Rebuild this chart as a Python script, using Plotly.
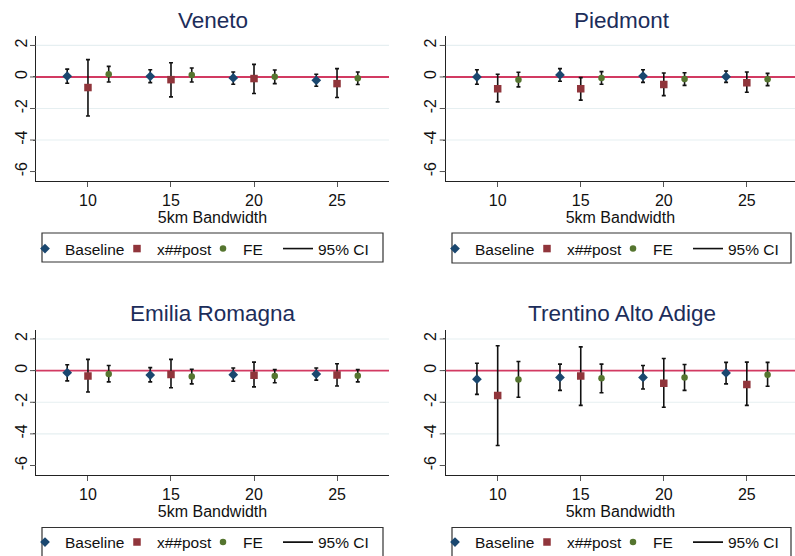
import plotly.graph_objects as go

# ---------------- data ----------------
BANDWIDTH = [10, 15, 20, 25]
X_TICKS = [10, 15, 20, 25]
Y_TICKS = [2, 0, -2, -4, -6]
Y_GRID = [2, -2, -4]
SERIES = ["Baseline", "x##post", "FE"]
REGIONS = ["Veneto", "Piedmont", "Emilia Romagna", "Trentino Alto Adige"]

# Veneto
VEN_BASE = [0.05, 0.04, -0.06, -0.21]
VEN_BASE_LO = [-0.40, -0.36, -0.46, -0.59]
VEN_BASE_HI = [0.50, 0.46, 0.32, 0.17]
VEN_POST = [-0.67, -0.17, -0.10, -0.42]
VEN_POST_LO = [-2.48, -1.26, -1.05, -1.30]
VEN_POST_HI = [1.10, 0.90, 0.80, 0.53]
VEN_FE = [0.17, 0.13, 0.02, -0.08]
VEN_FE_LO = [-0.32, -0.32, -0.42, -0.48]
VEN_FE_HI = [0.67, 0.57, 0.44, 0.32]

# Piedmont
PIE_BASE = [0.00, 0.13, 0.06, 0.02]
PIE_BASE_LO = [-0.46, -0.27, -0.34, -0.34]
PIE_BASE_HI = [0.46, 0.53, 0.46, 0.38]
PIE_POST = [-0.74, -0.74, -0.48, -0.36]
PIE_POST_LO = [-1.58, -1.47, -1.18, -0.97]
PIE_POST_HI = [0.17, -0.04, 0.25, 0.32]
PIE_FE = [-0.17, -0.06, -0.13, -0.15]
PIE_FE_LO = [-0.63, -0.46, -0.53, -0.55]
PIE_FE_HI = [0.30, 0.34, 0.27, 0.23]

# Emilia Romagna
EMI_BASE = [-0.13, -0.28, -0.26, -0.22]
EMI_BASE_LO = [-0.65, -0.71, -0.67, -0.60]
EMI_BASE_HI = [0.37, 0.19, 0.17, 0.17]
EMI_POST = [-0.34, -0.24, -0.30, -0.28]
EMI_POST_LO = [-1.35, -1.08, -1.03, -0.97]
EMI_POST_HI = [0.71, 0.71, 0.54, 0.43]
EMI_FE = [-0.22, -0.37, -0.34, -0.32]
EMI_FE_LO = [-0.71, -0.84, -0.77, -0.71]
EMI_FE_HI = [0.32, 0.09, 0.06, 0.06]

# Trentino Alto Adige
TRE_BASE = [-0.54, -0.43, -0.43, -0.15]
TRE_BASE_LO = [-1.50, -1.25, -1.16, -0.84]
TRE_BASE_HI = [0.47, 0.41, 0.32, 0.52]
TRE_POST = [-1.57, -0.34, -0.80, -0.88]
TRE_POST_LO = [-4.73, -2.20, -2.32, -2.20]
TRE_POST_HI = [1.57, 1.50, 0.77, 0.54]
TRE_FE = [-0.56, -0.49, -0.43, -0.26]
TRE_FE_LO = [-1.68, -1.40, -1.25, -0.99]
TRE_FE_HI = [0.58, 0.41, 0.39, 0.52]

PANELS = [
    (VEN_BASE, VEN_BASE_LO, VEN_BASE_HI, VEN_POST, VEN_POST_LO, VEN_POST_HI, VEN_FE, VEN_FE_LO, VEN_FE_HI),
    (PIE_BASE, PIE_BASE_LO, PIE_BASE_HI, PIE_POST, PIE_POST_LO, PIE_POST_HI, PIE_FE, PIE_FE_LO, PIE_FE_HI),
    (EMI_BASE, EMI_BASE_LO, EMI_BASE_HI, EMI_POST, EMI_POST_LO, EMI_POST_HI, EMI_FE, EMI_FE_LO, EMI_FE_HI),
    (TRE_BASE, TRE_BASE_LO, TRE_BASE_HI, TRE_POST, TRE_POST_LO, TRE_POST_HI, TRE_FE, TRE_FE_LO, TRE_FE_HI),
]

# ---------------- styling ----------------
W, H = 795, 556
FONT = "Liberation Sans, Arial, Helvetica, sans-serif"
OFFSETS = [-1.25, 0.0, 1.25]
COLORS = ["#1a476f", "#90353b", "#55752f"]
SYMBOLS = ["diamond", "square", "circle"]
SIZES = [7.5, 7.5, 6.5]
LEGEND_W = [47, 41, 30]          # legend entry widths
TITLE_COLOR = "#1c2d5a"
YTICK_LEN = 6

# panel boxes in pixels: (left, right, top, bottom, xmin, xmax)
PANEL_PX = [
    (36, 389, 36, 181, 6.87, 28.13),
    (445.7, 795, 36, 181, 6.87, 27.9),
    (36, 389, 329.5, 475, 6.87, 28.13),
    (445.7, 795, 329.5, 475, 6.87, 27.9),
]
LEGEND_BOX = [(42, 383, 233, 262), (452, 791, 233, 263), (42, 383, 527.5, 560), (452, 791, 527.5, 560)]
LEGEND_MID = [249, 249, 542.5, 542.5]
TITLE_Y = [20, 20, 313, 313]
Y_RANGE = [-6.6, 2.6]

fig = go.Figure()
layout = dict(
    width=W, height=H, margin=dict(l=0, r=0, t=0, b=0, autoexpand=False),
    paper_bgcolor="white", plot_bgcolor="white",
    font=dict(family=FONT, size=16, color="#111111"),
    showlegend=True,
)
shapes = []
annotations = []

for p, data in enumerate(PANELS):
    sfx = "" if p == 0 else str(p + 1)
    xa, ya = "x" + sfx, "y" + sfx
    left, right, top, bottom, xmin, xmax = PANEL_PX[p]
    leg = "legend" + sfx
    for s in range(3):
        est, lo, hi = data[3 * s], data[3 * s + 1], data[3 * s + 2]
        xs = [b + OFFSETS[s] for b in BANDWIDTH]
        fig.add_trace(go.Scatter(
            x=xs, y=est, mode="markers", name=SERIES[s],
            xaxis=xa, yaxis=ya, legend=leg, legendwidth=LEGEND_W[s],
            marker=dict(symbol=SYMBOLS[s], size=SIZES[s], color=COLORS[s], line=dict(width=0)),
            error_y=dict(type="data", symmetric=False,
                         array=[h - e for h, e in zip(hi, est)],
                         arrayminus=[e - l for e, l in zip(est, lo)],
                         color="#111111", thickness=1.6, width=2),
        ))
    fig.add_trace(go.Scatter(
        x=[None], y=[None], mode="lines", name="95% CI",
        xaxis=xa, yaxis=ya, legend=leg, legendwidth=60,
        line=dict(color="#111111", width=1.6),
    ))

    layout["xaxis" + sfx] = dict(
        domain=[left / W, right / W], anchor=ya, range=[xmin, xmax],
        tickvals=X_TICKS, ticks="outside", ticklen=5, tickcolor="#555555",
        showline=True, linecolor="#222222", linewidth=1, showgrid=False, zeroline=False,
        tickfont=dict(size=16), title=dict(text="5km Bandwidth", font=dict(size=16), standoff=1),
    )
    layout["yaxis" + sfx] = dict(
        domain=[1 - bottom / H, 1 - top / H], anchor=xa, range=Y_RANGE,
        tickvals=Y_TICKS, ticktext=[str(t) for t in Y_TICKS], tickangle=-90,
        ticks="outside", ticklen=2, tickcolor="#555555",
        showline=True, linecolor="#222222", linewidth=1, showgrid=False, zeroline=False,
        tickfont=dict(size=16),
    )
    # full-length y tick marks (labels sit closer to the axis than plotly's default)
    for t in Y_TICKS:
        shapes.append(dict(type="line", xref=xa + " domain", yref=ya,
                           x0=-YTICK_LEN / (right - left), x1=0, y0=t, y1=t,
                           line=dict(color="#555555", width=1)))
    for g in Y_GRID:
        shapes.append(dict(type="line", xref=xa + " domain", yref=ya, x0=0, x1=1, y0=g, y1=g,
                           line=dict(color="#e6eff1", width=1.2), layer="below"))
    shapes.append(dict(type="line", xref=xa + " domain", yref=ya, x0=0, x1=1, y0=0, y1=0,
                       line=dict(color="#d23a62", width=1.8), layer="below"))
    bl, br, bt, bb = LEGEND_BOX[p]
    shapes.append(dict(type="rect", xref="paper", yref="paper",
                       x0=bl / W, x1=br / W, y0=1 - bb / H, y1=1 - bt / H,
                       line=dict(color="#333333", width=1.2), fillcolor="rgba(0,0,0,0)"))
    layout[leg] = dict(
        orientation="h", x=(bl - 17) / W, xanchor="left", y=1 - LEGEND_MID[p] / H, yanchor="middle",
        bgcolor="rgba(0,0,0,0)", borderwidth=0, itemwidth=30, font=dict(size=15.5),
        itemclick=False, itemdoubleclick=False,
    )
    annotations.append(dict(text=REGIONS[p], xref="paper", yref="paper",
                            x=(left + right) / 2 / W if p in (0, 2) else (left + 389 - 36 + left) / 2 / W,
                            y=1 - TITLE_Y[p] / H, xanchor="center", yanchor="middle",
                            showarrow=False, font=dict(size=22.5, color=TITLE_COLOR)))

layout["shapes"] = shapes
layout["annotations"] = annotations
fig.update_layout(**layout)
fig.write_html("out.html", config={"displayModeBar": False},
               post_script="document.body.style.margin='0';document.body.style.overflow='hidden';")
